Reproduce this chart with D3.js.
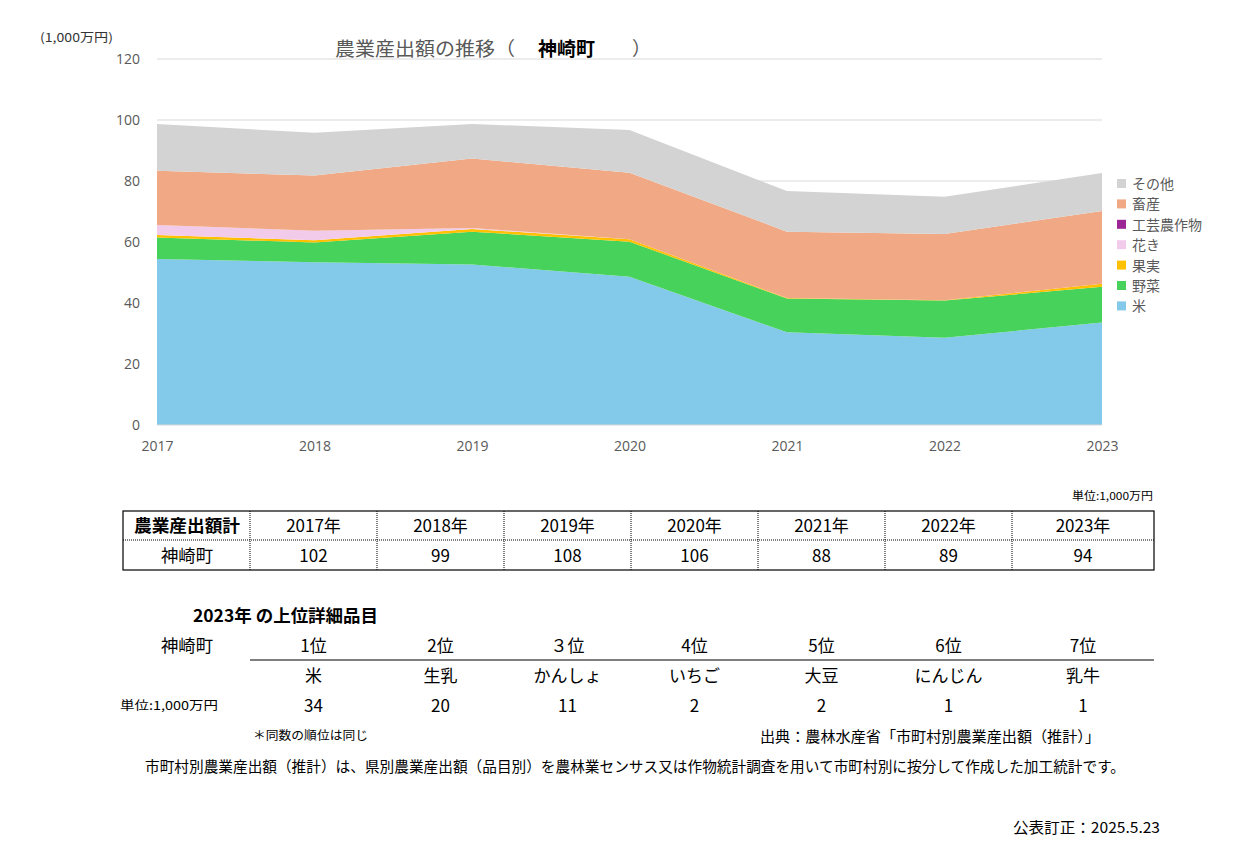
<!DOCTYPE html>
<html lang="ja">
<head>
<meta charset="utf-8">
<title>農業産出額の推移</title>
<script src="https://cdn.jsdelivr.net/npm/d3@7"></script>
<style>
  body { margin: 0; background: #fff; }
  svg text { font-family: "Noto Sans CJK JP", "Noto Sans", sans-serif; }
</style>
</head>
<body>
<svg id="chart" width="1240" height="841"></svg>
<script>
// data (1,000万円)
var years = [2017, 2018, 2019, 2020, 2021, 2022, 2023];
var kome     = [54.4, 53.4, 52.6, 48.6, 30.4, 28.6, 33.6];
var yasai    = [7.1, 6.4, 10.8, 11.5, 11.1, 12.2, 11.7];
var kajitsu  = [0.8, 0.8, 0.9, 0.8, 0.1, 0.1, 1.0];
var kaki     = [3.3, 3.1, 0.3, 0.0, 0.0, 0.0, 0.0];
var kougei   = [0, 0, 0, 0, 0, 0, 0];
var chikusan = [17.8, 18.1, 22.8, 21.8, 21.8, 21.7, 23.9];
var sonota   = [15.3, 14.0, 11.3, 14.0, 13.3, 12.2, 12.4];

var seriesNames  = ["米", "野菜", "果実", "花き", "工芸農作物", "畜産", "その他"];
var seriesColors = ["#83c9e9", "#47d35b", "#ffc000", "#f2cbea", "#9c2595", "#f0a984", "#d3d3d3"];
var yTicks = [0, 20, 40, 60, 80, 100, 120];

var totalYears = ["2017年", "2018年", "2019年", "2020年", "2021年", "2022年", "2023年"];
var totals = [102, 99, 108, 106, 88, 89, 94];

var rankLabels = ["1位", "2位", "３位", "4位", "5位", "6位", "7位"];
var rankItems  = ["米", "生乳", "かんしょ", "いちご", "大豆", "にんじん", "乳牛"];
var rankValues = [34, 20, 11, 2, 2, 1, 1];

var svg = d3.select("#chart");

var rows = years.map(function(y, i) {
  return { year: y, s0: kome[i], s1: yasai[i], s2: kajitsu[i], s3: kaki[i], s4: kougei[i], s5: chikusan[i], s6: sonota[i] };
});
var keys = ["s0", "s1", "s2", "s3", "s4", "s5", "s6"];
var stacked = d3.stack().keys(keys)(rows);

var x = d3.scaleLinear().domain([2017, 2023]).range([157, 1102]);
var y = d3.scaleLinear().domain([0, 120]).range([425, 59]);

// gridlines
svg.append("g").selectAll("line").data(yTicks.slice(1)).enter().append("line")
  .attr("x1", 157).attr("x2", 1102)
  .attr("y1", function(d) { return y(d); }).attr("y2", function(d) { return y(d); })
  .style("stroke", "#d9d9d9").style("stroke-width", 1);

var area = d3.area()
  .x(function(d) { return x(d.data.year); })
  .y0(function(d) { return y(d[0]); })
  .y1(function(d) { return y(d[1]); });

svg.append("g").selectAll("path").data(stacked).enter().append("path")
  .attr("d", area)
  .style("fill", function(d, i) { return seriesColors[i]; });

// baseline
svg.append("line").attr("x1", 157).attr("x2", 1102).attr("y1", y(0)).attr("y2", y(0))
  .style("stroke", "#d9d9d9");

// axes
var yAxis = d3.axisLeft(y).tickValues(yTicks).tickSize(0).tickPadding(0);
var gy = svg.append("g").attr("transform", "translate(140,0)").call(yAxis);
gy.select(".domain").remove();
gy.selectAll("text").style("font-size", "14px").style("fill", "#595959")
  .style("font-family", "'Open Sans', sans-serif");

var xAxis = d3.axisBottom(x).tickValues(years).tickFormat(d3.format("d")).tickSize(0).tickPadding(0);
var gx = svg.append("g").attr("transform", "translate(0,441)").call(xAxis);
gx.select(".domain").remove();
gx.selectAll("text").style("font-size", "14px").style("fill", "#595959")
  .style("font-family", "'Open Sans', sans-serif");

// small helper: text stretched to the width seen in the picture
function label(xp, yp, str, size, width, anchor) {
  var t = svg.append("text").attr("x", xp).attr("y", yp).text(str)
    .style("font-size", size + "px").attr("text-anchor", anchor || "start");
  if (width) t.attr("textLength", width).attr("lengthAdjust", "spacingAndGlyphs");
  return t;
}

// titles
label(40, 42, "(1,000万円)", 12, 73).style("fill", "#333");
var title = svg.append("text").attr("y", 56).style("font-size", "19px");
title.append("tspan").attr("x", 335).attr("textLength", 180).attr("lengthAdjust", "spacingAndGlyphs")
  .text("農業産出額の推移（").style("fill", "#595959");
title.append("tspan").attr("x", 538).text("神崎町").style("fill", "#000").style("font-weight", "bold");
title.append("tspan").attr("x", 632).text("）").style("fill", "#595959");

// legend
var legendOrder = [6, 5, 4, 3, 2, 1, 0];
var lg = svg.append("g").selectAll("g").data(legendOrder).enter().append("g")
  .attr("transform", function(d, i) { return "translate(1117," + (184 + i * 20.4) + ")"; });
lg.append("rect").attr("x", 0).attr("y", -5).attr("width", 9).attr("height", 9)
  .style("fill", function(d) { return seriesColors[d]; });
lg.append("text").attr("x", 15).attr("y", 5).text(function(d) { return seriesNames[d]; })
  .style("font-size", "14px").style("fill", "#595959");

// totals table
var colEdges = [123, 250, 377, 504, 631, 758, 885, 1012, 1154];
var tTop = 511, tMid = 540, tBot = 570;
label(1153, 500, "単位:1,000万円", 11, 81, "end");
svg.append("rect").attr("x", colEdges[0]).attr("y", tTop)
  .attr("width", colEdges[8] - colEdges[0]).attr("height", tBot - tTop)
  .style("fill", "none").style("stroke", "#000").style("stroke-width", 1.2);
svg.append("line").attr("x1", colEdges[0]).attr("x2", colEdges[8]).attr("y1", tMid).attr("y2", tMid)
  .style("stroke", "#000").style("stroke-dasharray", "1,1");
svg.append("g").selectAll("line").data(colEdges.slice(1, 8)).enter().append("line")
  .attr("x1", function(d) { return d; }).attr("x2", function(d) { return d; })
  .attr("y1", tTop).attr("y2", tBot)
  .style("stroke", "#000").style("stroke-dasharray", "1,1");

function colCenter(i) { return (colEdges[i + 1] + colEdges[i + 2]) / 2; }

label(187, tMid - 8, "農業産出額計", 17, 106, "middle").style("font-weight", "bold");
label(187, tBot - 8, "神崎町", 17, 52, "middle");
svg.append("g").selectAll("text").data(totalYears).enter().append("text")
  .attr("x", function(d, i) { return colCenter(i); }).attr("y", tMid - 8)
  .attr("text-anchor", "middle").text(function(d) { return d; }).style("font-size", "17px");
svg.append("g").selectAll("text").data(totals).enter().append("text")
  .attr("x", function(d, i) { return colCenter(i); }).attr("y", tBot - 8)
  .attr("text-anchor", "middle").text(function(d) { return d; }).style("font-size", "17px");

// top items
label(193, 622, "2023年 の上位詳細品目", 17, 185).style("font-weight", "bold");
label(187, 652, "神崎町", 17, 52, "middle");
svg.append("line").attr("x1", 250).attr("x2", 1154).attr("y1", 660).attr("y2", 660)
  .style("stroke", "#000").style("stroke-width", 1.2);
svg.append("g").selectAll("text").data(rankLabels).enter().append("text")
  .attr("x", function(d, i) { return colCenter(i); }).attr("y", 652)
  .attr("text-anchor", "middle").text(function(d) { return d; }).style("font-size", "17px");
svg.append("g").selectAll("text").data(rankItems).enter().append("text")
  .attr("x", function(d, i) { return colCenter(i); }).attr("y", 682)
  .attr("text-anchor", "middle").text(function(d) { return d; }).style("font-size", "17px");
svg.append("g").selectAll("text").data(rankValues).enter().append("text")
  .attr("x", function(d, i) { return colCenter(i); }).attr("y", 712)
  .attr("text-anchor", "middle").text(function(d) { return d; }).style("font-size", "17px");
label(120, 710, "単位:1,000万円", 12, 98);

label(253, 740, "＊同数の順位は同じ", 12, 115);
label(1100, 742, "出典：農林水産省「市町村別農業産出額（推計）」", 15, 340, "end");
label(145, 772, "市町村別農業産出額（推計）は、県別農業産出額（品目別）を農林業センサス又は作物統計調査を用いて市町村別に按分して作成した加工統計です。", 15, 980);
label(1160, 833, "公表訂正：2025.5.23", 15, 147, "end");
</script>
</body>
</html>
